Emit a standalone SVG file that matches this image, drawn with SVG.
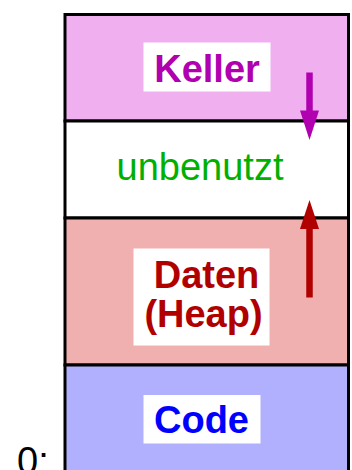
<svg xmlns="http://www.w3.org/2000/svg" width="352" height="470" viewBox="0 0 352 470">
  <style>
    .seg { stroke: #000; stroke-width: 3; }
    .lbl { fill: #fff; }
    .t { font-family: "Liberation Sans", Arial, sans-serif; font-size: 38px; text-anchor: middle; }
    .b { font-weight: bold; }
  </style>
  <defs>
    <marker id="headP" viewBox="0 0 19 29" refX="9.5" refY="29" markerUnits="userSpaceOnUse" markerWidth="19" markerHeight="29" orient="auto-start-reverse">
      <path d="M0,0 L19,0 L9.5,29 Z" fill="#b000b0"/>
    </marker>
  </defs>

  <!-- memory segments, top to bottom -->
  <g id="keller">
    <rect class="seg" x="65" y="14.5" width="283.5" height="106.5" fill="#f0b0f0"/>
    <rect class="lbl" x="143.5" y="42.5" width="127" height="49"/>
    <text class="t b" x="207" y="81.5" fill="#b000b0">Keller</text>
  </g>

  <g id="unbenutzt">
    <rect class="seg" x="65" y="121" width="283.5" height="97" fill="#ffffff"/>
    <text class="t" x="200" y="180" fill="#00b000">unbenutzt</text>
  </g>

  <g id="daten">
    <rect class="seg" x="65" y="218" width="283.5" height="147" fill="#f0b0b0"/>
    <rect class="lbl" x="133.5" y="248.5" width="136" height="97"/>
    <text class="t b" x="206.5" y="287.5" fill="#b00000">Daten</text>
    <text class="t b" x="203.5" y="327" fill="#b00000">(Heap)</text>
  </g>

  <g id="code">
    <rect class="seg" x="65" y="365" width="283.5" height="120" fill="#b0b0ff"/>
    <rect class="lbl" x="143.5" y="395" width="117" height="48.5"/>
    <text class="t b" x="201.5" y="432.5" fill="#0000ff">Code</text>
  </g>

  <text id="addr0" x="17" y="474" font-family="'Liberation Sans', Arial, sans-serif" font-size="38" fill="#000">0:</text>

  <!-- growth directions -->
  <g id="connectors">
    <line x1="309.5" y1="72.5" x2="309.5" y2="112" stroke="#b000b0" stroke-width="6.5"/>
    <path d="M300,110.5 L319,110.5 L309.5,140 Z" fill="#b000b0"/>
    <line x1="309.5" y1="297.5" x2="309.5" y2="227" stroke="#b00000" stroke-width="6.5"/>
    <path d="M300,229 L319,229 L309.5,200 Z" fill="#b00000"/>
  </g>
</svg>
